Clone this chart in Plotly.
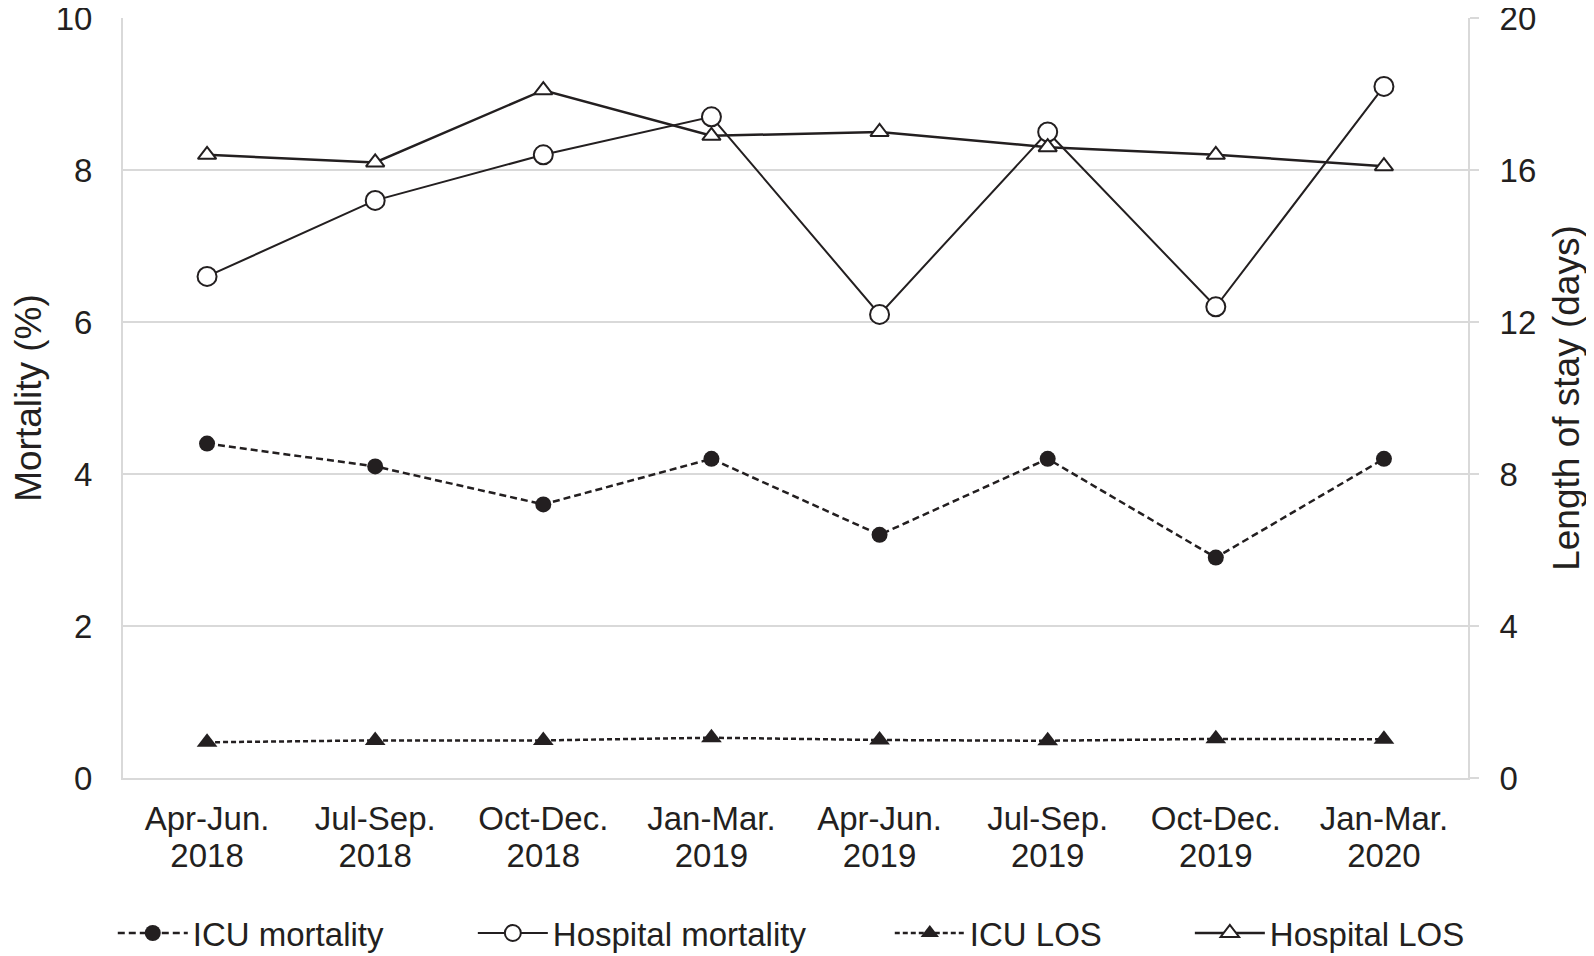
import plotly.graph_objects as go

quarters = ["Apr-Jun.", "Jul-Sep.", "Oct-Dec.", "Jan-Mar.", "Apr-Jun.", "Jul-Sep.", "Oct-Dec.", "Jan-Mar."]
years = ["2018", "2018", "2018", "2019", "2019", "2019", "2019", "2020"]
icu_mortality = [4.4, 4.1, 3.6, 4.2, 3.2, 4.2, 2.9, 4.2]
hospital_mortality = [6.6, 7.6, 8.2, 8.7, 6.1, 8.5, 6.2, 9.1]
icu_los = [0.94, 0.99, 0.99, 1.06, 1.0, 0.98, 1.03, 1.02]
hospital_los = [16.4, 16.2, 18.1, 16.9, 17.0, 16.6, 16.4, 16.1]
left_ticks = [0, 2, 4, 6, 8, 10]
right_ticks = [0, 4, 8, 12, 16, 20]

x_idx = list(range(len(quarters)))

INK = "#231f20"
GRID = "#d9d9d9"
FONT = "Liberation Sans, Arial, sans-serif"

fig = go.Figure()
fig.add_trace(go.Scatter(
    x=x_idx, y=icu_mortality, name="ICU mortality", mode="lines+markers",
    line=dict(color=INK, width=2.5, dash="7px,4px"),
    marker=dict(symbol="circle", size=16, color=INK),
    legend="legend", xaxis="x", yaxis="y"))
fig.add_trace(go.Scatter(
    x=x_idx, y=hospital_mortality, name="Hospital mortality", mode="lines+markers",
    line=dict(color=INK, width=2),
    marker=dict(symbol="circle", size=19, color="white", line=dict(color=INK, width=2)),
    legend="legend2", xaxis="x", yaxis="y"))
fig.add_trace(go.Scatter(
    x=x_idx, y=icu_los, name="ICU LOS", mode="lines+markers",
    line=dict(color=INK, width=2.5, dash="5px,3px"),
    marker=dict(symbol="triangle-up", size=18, color=INK),
    legend="legend3", xaxis="x2", yaxis="y2"))
fig.add_trace(go.Scatter(
    x=x_idx, y=hospital_los, name="Hospital LOS", mode="lines+markers",
    line=dict(color=INK, width=2.5),
    marker=dict(symbol="triangle-up", size=16, color="white", line=dict(color=INK, width=2)),
    legend="legend4", xaxis="x2", yaxis="y2"))

def leg(x):
    return dict(x=x, y=-0.204, xanchor="left", yanchor="middle", orientation="h",
                font=dict(family=FONT, size=33, color=INK), itemwidth=70,
                bgcolor="rgba(0,0,0,0)", borderwidth=0)

fig.update_layout(
    width=1586, height=948,
    margin=dict(l=115, r=126, t=10, b=178, autoexpand=False),
    paper_bgcolor="white", plot_bgcolor="white",
    font=dict(family=FONT, color=INK, size=33),
    showlegend=True,
    legend=leg(-0.0076), legend2=leg(0.2601), legend3=leg(0.5701), legend4=leg(0.7932),
    xaxis=dict(range=[-0.5, len(quarters) - 0.5], tickmode="array", tickvals=x_idx, ticktext=quarters,
               showgrid=False, showline=True, linecolor=GRID, linewidth=2,
               ticks="", ticklabelstandoff=10, automargin=False, ticklabeloverflow="allow",
               tickfont=dict(family=FONT, size=33, color=INK), zeroline=False),
    xaxis2=dict(matches="x", overlaying="x", side="bottom", anchor="y2",
                tickmode="array", tickvals=x_idx, ticktext=years,
                showgrid=False, showline=False, ticks="", ticklabelstandoff=55, automargin=False,
                ticklabeloverflow="allow",
                tickfont=dict(family=FONT, size=33, color=INK), zeroline=False),
    yaxis=dict(range=[0, 10], tickvals=left_ticks, showgrid=True, gridcolor=GRID, gridwidth=2,
               showline=True, linecolor=GRID, linewidth=2, ticks="", zeroline=False,
               ticklabelstandoff=22, automargin=False, ticklabeloverflow="allow",
               tickfont=dict(family=FONT, size=33, color=INK),
               title=dict(text="Mortality (%)", font=dict(family=FONT, size=37, color=INK), standoff=30)),
    yaxis2=dict(range=[0, 20], tickvals=right_ticks, overlaying="y", side="right", anchor="x2",
                showgrid=False, showline=True, linecolor=GRID, linewidth=2,
                ticks="outside", ticklen=9, tickwidth=2, tickcolor=GRID, zeroline=False,
                ticklabelstandoff=14, automargin=False, ticklabeloverflow="allow",
                tickfont=dict(family=FONT, size=33, color=INK),
                title=dict(text="Length of stay (days)", font=dict(family=FONT, size=37, color=INK), standoff=18)),
)

fig.write_html("out.html")
